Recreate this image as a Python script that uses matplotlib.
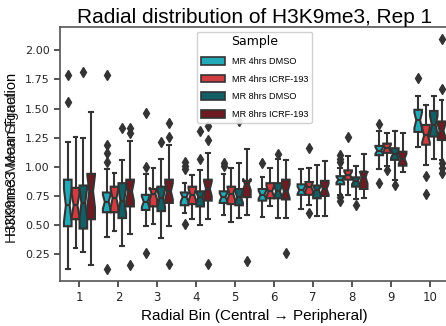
import numpy as np
import matplotlib
matplotlib.use("Agg")
import matplotlib.pyplot as plt
from matplotlib.patches import Patch

# radial bins and sample groups
BINS = ["1", "2", "3", "4", "5", "6", "7", "8", "9", "10"]
SAMPLES = ["MR 4hrs DMSO", "MR 4hrs ICRF-193", "MR 8hrs DMSO", "MR 8hrs ICRF-193"]
COLORS = ["#23aab8", "#d03c40", "#135f65", "#6e1a20"]

# box stats, one row per bin, one column per sample
# (whisker low, q1, median, q3, whisker high)
MR4_DMSO = [
    (0.12, 0.49, 0.67, 0.89, 1.21), (0.40, 0.61, 0.70, 0.78, 0.98),
    (0.49, 0.63, 0.70, 0.76, 0.94), (0.60, 0.67, 0.74, 0.78, 0.86),
    (0.59, 0.69, 0.74, 0.79, 0.94), (0.57, 0.71, 0.76, 0.81, 0.91),
    (0.64, 0.76, 0.80, 0.85, 0.98), (0.76, 0.85, 0.89, 0.92, 0.99),
    (0.98, 1.10, 1.14, 1.18, 1.31), (1.17, 1.30, 1.40, 1.49, 1.61),
]
MR4_ICRF = [
    (0.30, 0.55, 0.67, 0.82, 1.26), (0.45, 0.61, 0.73, 0.83, 0.95),
    (0.51, 0.66, 0.77, 0.81, 0.99), (0.55, 0.68, 0.76, 0.83, 0.93),
    (0.53, 0.68, 0.77, 0.83, 0.99), (0.66, 0.73, 0.79, 0.86, 0.99),
    (0.67, 0.76, 0.83, 0.87, 0.99), (0.76, 0.89, 0.93, 0.97, 1.09),
    (1.01, 1.12, 1.16, 1.20, 1.29), (1.02, 1.19, 1.27, 1.36, 1.53),
]
MR8_DMSO = [
    (0.27, 0.47, 0.69, 0.84, 1.25), (0.32, 0.56, 0.71, 0.86, 1.06),
    (0.39, 0.62, 0.73, 0.83, 1.07), (0.50, 0.66, 0.74, 0.79, 0.97),
    (0.56, 0.67, 0.74, 0.81, 1.03), (0.56, 0.73, 0.79, 0.86, 1.07),
    (0.58, 0.73, 0.80, 0.84, 1.02), (0.72, 0.83, 0.88, 0.91, 1.01),
    (0.89, 1.06, 1.11, 1.16, 1.31), (1.07, 1.26, 1.36, 1.48, 1.61),
]
MR8_ICRF = [
    (0.16, 0.55, 0.79, 0.94, 1.47), (0.42, 0.66, 0.79, 0.89, 1.22),
    (0.49, 0.69, 0.79, 0.89, 1.19), (0.55, 0.71, 0.81, 0.89, 1.12),
    (0.59, 0.74, 0.85, 0.88, 1.15), (0.56, 0.72, 0.79, 0.89, 1.06),
    (0.58, 0.75, 0.81, 0.88, 1.05), (0.73, 0.81, 0.91, 0.96, 1.11),
    (0.96, 1.01, 1.07, 1.13, 1.29), (1.06, 1.23, 1.31, 1.39, 1.57),
]
FLIERS_MR4_DMSO = [[1.79, 1.56], [1.79, 1.19, 1.12, 1.04, 0.12], [1.46, 1.00, 0.26],
                   [1.04, 1.01, 0.98, 0.51], [1.03, 1.01], [1.03], [], [1.10, 1.07, 1.04, 0.74, 0.71],
                   [1.37, 0.86], [1.76]]
FLIERS_MR4_ICRF = [[], [], [], [], [], [], [1.16, 0.60], [1.26], [0.97], [0.92, 0.77]]
FLIERS_MR8_DMSO = [[1.81], [1.33], [1.21], [1.31, 1.07], [1.39], [1.11], [], [0.67], [0.84], []]
FLIERS_MR8_ICRF = [[], [1.33, 1.29, 0.16], [1.38, 1.26, 0.17], [1.35, 1.23, 0.17], [0.19],
                   [0.26], [], [], [], [2.10, 1.67, 1.03, 0.99, 0.95]]

N_PER_BOX = 20  # assumed sample size, only used for notch depth

SERIES = [MR4_DMSO, MR4_ICRF, MR8_DMSO, MR8_ICRF]
FLIERS = [FLIERS_MR4_DMSO, FLIERS_MR4_ICRF, FLIERS_MR8_DMSO, FLIERS_MR8_ICRF]

LINE = "#333333"

fig = plt.figure(figsize=(4.46, 3.26), dpi=100)
ax = fig.add_axes([0.1345, 0.138, 0.873, 0.779])

for k, (series, fliers, color) in enumerate(zip(SERIES, FLIERS, COLORS)):
    stats = []
    for (lo, q1, med, q3, hi), fl in zip(series, fliers):
        half = 1.57 * (q3 - q1) / np.sqrt(N_PER_BOX)
        stats.append(dict(whislo=lo, q1=q1, med=med, q3=q3, whishi=hi,
                          cilo=med - half, cihi=med + half, fliers=fl))
    pos = np.arange(len(BINS)) + (k - 1.5) * 0.2
    ax.bxp(stats, positions=pos, widths=0.196, patch_artist=True, shownotches=True,
           manage_ticks=False,
           boxprops=dict(facecolor=color, edgecolor=LINE, linewidth=1.5),
           medianprops=dict(color=LINE, linewidth=1.5),
           whiskerprops=dict(color=LINE, linewidth=1.5),
           capprops=dict(color=LINE, linewidth=1.5),
           flierprops=dict(marker="d", markerfacecolor=LINE, markeredgecolor=LINE,
                           markersize=5))

ax.set_xticks(np.arange(len(BINS)))
ax.set_xticklabels(BINS)
ax.set_xlim(-0.5, 9.5)
ax.set_ylim(0.02, 2.2)
ax.set_yticks(np.arange(0.25, 2.01, 0.25))
ax.tick_params(axis="y", labelsize=8)
ax.tick_params(axis="x", labelsize=8.5)
ax.tick_params(colors="#262626", width=1.1, length=4)
for s in ax.spines.values():
    s.set_color("#555555")
    s.set_linewidth(1.2)

fam = ["Liberation Sans", "DejaVu Sans"]
ax.set_title("Radial distribution of H3K9me3, Rep 1", fontsize=15, family=fam, pad=3)
ax.set_xlabel("Radial Bin (Central \u2192 Peripheral)", fontsize=11, family=fam, labelpad=3)
ax.set_ylabel("H3K9me3 Mean Fraction", fontsize=10.5, family=fam, labelpad=4)
# a second y label was drawn on top of the first in the original
fig.text(0.027, 0.485, "H3K9me3 Mean Signal", rotation=90, fontsize=10.5, family=fam,
         ha="center", va="center", color="#262626")

handles = [Patch(facecolor=c, edgecolor=LINE, linewidth=1.2) for c in COLORS]
leg = ax.legend(handles, SAMPLES, title="Sample", loc="upper center",
                prop=dict(family=fam, size=6.6), title_fontsize=9,
                handlelength=2.6, handleheight=0.9, labelspacing=0.95,
                framealpha=0.9)

fig.savefig("out.png", dpi=100)
